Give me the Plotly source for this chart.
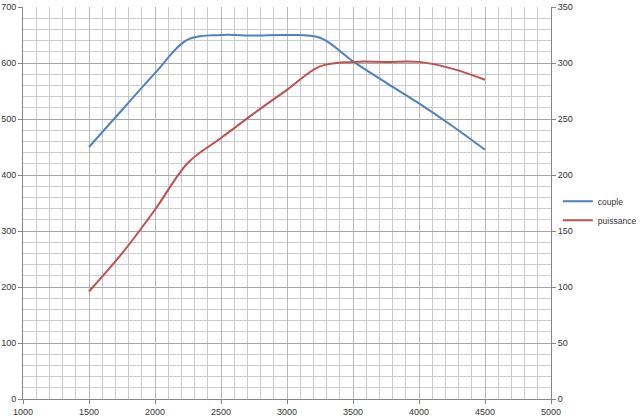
import plotly.graph_objects as go

# Engine curve: torque (couple, left axis) and power (puissance, right axis) vs rpm
rpm = [1500, 1750, 2000, 2250, 2500, 2750, 3000, 3250, 3500, 3750, 4000, 4250, 4500]
couple = [450, 516, 582, 642, 650, 649, 650, 645, 603, 565, 528, 488, 445]
puissance = [96, 130, 169, 211, 233, 255, 276, 297, 301, 301, 301, 295, 285]

BLUE = "#4f81bd"
RED = "#c0504d"
FONT = dict(family="Liberation Sans, Arial, sans-serif", size=9, color="#333333")

fig = go.Figure()
fig.add_scatter(
    x=rpm, y=couple, name="couple", mode="lines",
    line=dict(color=BLUE, width=2, shape="spline", smoothing=1.0),
)
fig.add_scatter(
    x=rpm, y=puissance, name="puissance", mode="lines", yaxis="y2",
    line=dict(color=RED, width=2, shape="spline", smoothing=1.0),
)

axis_common = dict(
    showline=True, linecolor="#868686", linewidth=1,
    ticks="outside", ticklen=4, tickcolor="#868686",
    zeroline=False, fixedrange=True, automargin=False,
)

fig.update_layout(
    width=640,
    height=420,
    margin=dict(l=23, r=89, t=7, b=21, autoexpand=False),
    paper_bgcolor="white",
    plot_bgcolor="white",
    font=FONT,
    showlegend=True,
    legend=dict(
        x=1.013, y=0.48, xanchor="left", yanchor="middle",
        font=dict(size=8.5), itemwidth=30, tracegroupgap=0,
        bgcolor="rgba(0,0,0,0)",
    ),
    xaxis=dict(
        range=[1000, 5000], dtick=500, tick0=1000,
        showgrid=True, gridcolor="#b8b8b8", gridwidth=1,
        minor=dict(dtick=100, showgrid=True, gridcolor="#c8c8c8", gridwidth=1),
        **axis_common,
    ),
    yaxis=dict(
        range=[0, 700], dtick=100,
        showgrid=True, gridcolor="#a6a6a6", gridwidth=1,
        minor=dict(dtick=20, showgrid=True, gridcolor="#cccccc", gridwidth=1),
        **axis_common,
    ),
    yaxis2=dict(
        range=[0, 350], dtick=50, overlaying="y", side="right",
        showgrid=False, **axis_common,
    ),
)

# drop the page's default 8px body margin so the figure fills the window
fig.write_html(
    "out.html",
    config={"displayModeBar": False},
    post_script="document.body.style.margin = '0';",
)
